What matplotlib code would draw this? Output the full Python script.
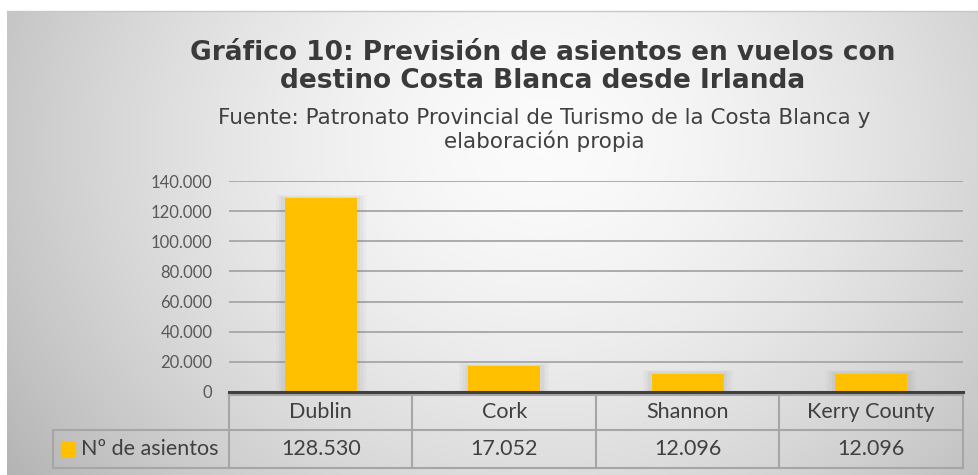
import numpy as np
import matplotlib
matplotlib.use("Agg")
import matplotlib.pyplot as plt

categories = ["Dublin", "Cork", "Shannon", "Kerry County"]
values = [128530, 17052, 12096, 12096]
value_labels = ["128.530", "17.052", "12.096", "12.096"]
series_name = "Nº de asientos"
y_ticks = [0, 20000, 40000, 60000, 80000, 100000, 120000, 140000]
y_tick_labels = ["0", "20.000", "40.000", "60.000", "80.000", "100.000", "120.000", "140.000"]

title = "Gráfico 10: Previsión de asientos en vuelos con\ndestino Costa Blanca desde Irlanda"
subtitle = "Fuente: Patronato Provincial de Turismo de la Costa Blanca y\nelaboración propia"

W, H = 979, 475
fig = plt.figure(figsize=(W / 100, H / 100), dpi=100)
fig.patch.set_facecolor("white")

# background gradient panel
bg = fig.add_axes([7 / W, 0, 1 - 7 / W, 1 - 11 / H], zorder=0)
ny, nx = 200, 400
yy, xx = np.mgrid[0:ny, 0:nx]
cx, cy = 0.55 * nx, 0.28 * ny
d = np.sqrt(((xx - cx) / (0.62 * nx)) ** 2 + ((yy - cy) / (1.1 * ny)) ** 2)
shade = 0.985 - 0.24 * np.clip(d, 0, 1.2) ** 1.6
bg.imshow(np.dstack([shade] * 3), aspect="auto", extent=[0, 1, 0, 1], origin="upper")
bg.set_xlim(0, 1)
bg.set_ylim(0, 1)
bg.axis("off")
fig.add_artist(plt.Line2D([7 / W, 1], [1 - 11 / H, 1 - 11 / H], color="#c8c8c8", lw=1.0, transform=fig.transFigure))

ax = fig.add_axes([229 / W, 1 - 392 / H, (963 - 229) / W, (392 - 181) / H], zorder=1)
ax.patch.set_visible(False)
x = np.arange(len(categories))
ax.set_xlim(-0.5, len(categories) - 0.5)
ax.set_ylim(0, 140000)

# soft shadow behind bars
for k, a in zip([0.10, 0.07, 0.04], [0.05, 0.06, 0.07]):
    ax.bar(x, [v + 2500 * k * 10 for v in values], width=0.39 + k, color="#808080", alpha=a, zorder=2, linewidth=0)
ax.bar(x, values, width=0.39, color="#FFC000", zorder=3, linewidth=0)

ax.set_yticks(y_ticks)
ax.set_yticklabels(y_tick_labels, fontsize=12, color="#595959", family="Lato")
ax.tick_params(axis="y", length=0, pad=12)
ax.tick_params(axis="x", length=0, labelbottom=False)
ax.grid(axis="y", color="#a6a6a6", lw=1.3, zorder=1)
for s in ["top", "right", "left"]:
    ax.spines[s].set_visible(False)
ax.spines["bottom"].set_color("#404040")
ax.spines["bottom"].set_linewidth(2.2)
ax.spines["bottom"].set_zorder(4)

# data table
ph = 392 - 181
def fy(py):
    return -(py - 392) / ph

tr = ax.get_xaxis_transform()
lc = "#a6a6a6"
lw = 1.5
colw = (963 - 229) / len(categories)
legend_left = -0.5 - (229 - 53) / colw
y_top, y_mid, y_bot = fy(395), fy(430), fy(468)
ax.plot([-0.5, len(categories) - 0.5], [y_top, y_top], color=lc, lw=lw, transform=tr, clip_on=False)
ax.plot([legend_left, len(categories) - 0.5], [y_mid, y_mid], color=lc, lw=lw, transform=tr, clip_on=False)
ax.plot([legend_left, len(categories) - 0.5], [y_bot, y_bot], color=lc, lw=lw, transform=tr, clip_on=False)
ax.plot([legend_left, legend_left], [y_mid, y_bot], color=lc, lw=lw, transform=tr, clip_on=False)
for b in np.arange(len(categories) + 1) - 0.5:
    ax.plot([b, b], [y_top, y_bot], color=lc, lw=lw, transform=tr, clip_on=False)

fs_tab = 15.5
for i, (c, vl) in enumerate(zip(categories, value_labels)):
    ax.text(i, fy(412), c, transform=tr, ha="center", va="center", fontsize=fs_tab, color="#404040", family="Lato")
    ax.text(i, fy(449), vl, transform=tr, ha="center", va="center", fontsize=fs_tab, color="#404040", family="Lato")

# legend key
kx0 = -0.5 - (229 - 61) / colw
kw = 14 / colw
ax.add_patch(plt.Rectangle((kx0, fy(456)), kw, fy(442) - fy(456), transform=tr, color="#FFC000", clip_on=False))
ax.text(-0.5 - (229 - 81) / colw, fy(449), series_name, transform=tr, ha="left", va="center",
        fontsize=fs_tab, color="#404040", family="Lato")

fig.text(543 / W, 1 - 67 / H, title, ha="center", va="center", fontsize=19, fontweight="bold",
         color="#3a3a3a", family="DejaVu Sans", linespacing=1.07)
fig.text(544 / W, 1 - 130 / H, subtitle, ha="center", va="center", fontsize=15.5, color="#404040",
         family="DejaVu Sans", linespacing=1.2)

fig.savefig("out.png", dpi=100)
